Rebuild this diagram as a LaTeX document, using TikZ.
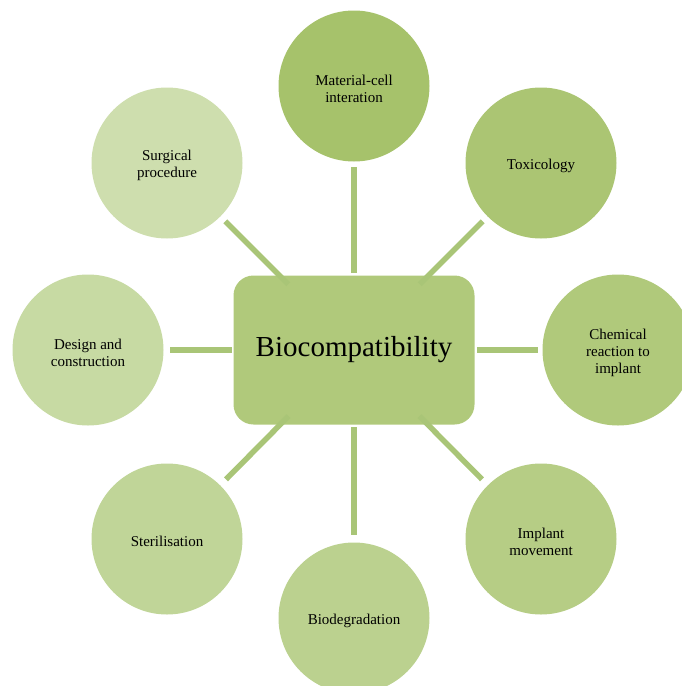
\documentclass[tikz,border=0pt]{standalone}
\usepackage{fontspec}
\setmainfont{Liberation Serif}
\usetikzlibrary{calc}

\definecolor{cMat}{HTML}{A6C26B}
\definecolor{cTox}{HTML}{ABC573}
\definecolor{cChem}{HTML}{B0C97B}
\definecolor{cImpl}{HTML}{B6CD85}
\definecolor{cBiod}{HTML}{BBD18F}
\definecolor{cSter}{HTML}{C0D598}
\definecolor{cDesign}{HTML}{C7DAA3}
\definecolor{cSurg}{HTML}{CEDEAE}
\definecolor{cHub}{HTML}{B0C97B}
\definecolor{cLink}{HTML}{A9C577}

\tikzset{
  topic/.style={circle, minimum size=151pt, inner sep=0pt,
    label={[topictext]center:{#1}}},
  topictext/.style={align=center, yshift=-2.5pt,
    font=\fontsize{15}{17}\selectfont, text=black},
  hub/.style={rectangle, rounded corners=20pt, minimum width=241pt,
    minimum height=149pt, fill=cHub, font=\fontsize{29}{33}\selectfont},
  link/.style={draw=cLink, line width=5.5pt, line cap=butt},
}

\begin{document}
\begin{tikzpicture}[x=1pt, y=-1pt]
  \useasboundingbox (0,0) rectangle (682,686);
  \clip (0,0) rectangle (682,686);

  % central hub
  \node[hub] (bio) at (354,350) {Biocompatibility};

  % surrounding topics, clockwise from the top
  \node[topic={Material-cell\\interation}, fill=cMat]    (mat)    at (354,86)  {};
  \node[topic={Toxicology}, fill=cTox]                   (tox)    at (541,163) {};
  \node[topic={Chemical\\reaction to\\implant}, fill=cChem] (chem) at (618,350) {};
  \node[topic={Implant\\movement}, fill=cImpl]           (impl)   at (541,539) {};
  \node[topic={Biodegradation}, fill=cBiod]              (biod)   at (354,618) {};
  \node[topic={Sterilisation}, fill=cSter]               (ster)   at (167,539) {};
  \node[topic={Design and\\construction}, fill=cDesign]  (design) at (88,350)  {};
  \node[topic={Surgical\\procedure}, fill=cSurg]         (surg)   at (167,163) {};

  % spokes from the hub towards each topic
  \draw[link] ($(bio)!77pt!(mat)$)     -- ($(bio)!183pt!(mat)$);
  \draw[link] ($(bio)!77pt!(biod)$)    -- ($(bio)!185pt!(biod)$);
  \draw[link] ($(bio)!122pt!(design)$) -- ($(bio)!184pt!(design)$);
  \draw[link] ($(bio)!123pt!(chem)$)   -- ($(bio)!184pt!(chem)$);
  \draw[link] ($(bio)!93pt!(tox)$)     -- ($(bio)!182pt!(tox)$);
  \draw[link] ($(bio)!93pt!(surg)$)    -- ($(bio)!182pt!(surg)$);
  \draw[link] ($(bio)!93pt!(impl)$)    -- ($(bio)!182pt!(impl)$);
  \draw[link] ($(bio)!93pt!(ster)$)    -- ($(bio)!182pt!(ster)$);
\end{tikzpicture}
\end{document}
